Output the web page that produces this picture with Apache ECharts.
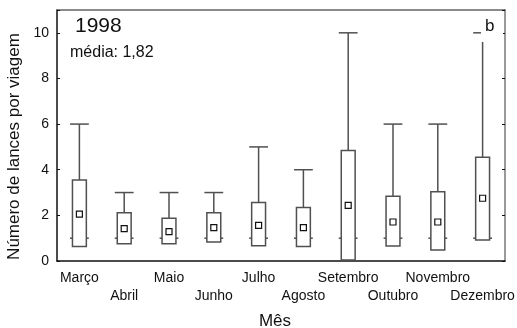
<!DOCTYPE html>
<html>
<head>
<meta charset="utf-8">
<script src="https://cdn.jsdelivr.net/npm/echarts@6/dist/echarts.min.js"></script>
<style>
  html, body { margin: 0; padding: 0; background: #fff; }
  #chart { width: 517px; height: 328px; }
</style>
</head>
<body>
<div id="chart"></div>
<script>
// Monthly number of sets per trip, 1998
const months = ['Março', 'Abril', 'Maio', 'Junho', 'Julho', 'Agosto', 'Setembro', 'Outubro', 'Novembro', 'Dezembro'];
const maxVals  = [6, 3, 3, 3, 5, 4, 10, 6, 6, 10];
const minVals  = [1, 1, 1, 1, 1, 1, 1, 1, 1, 1];
const boxLow   = [0.63, 0.76, 0.76, 0.83, 0.67, 0.63, 0.04, 0.66, 0.48, 0.92];
const boxHigh  = [3.55, 2.12, 1.87, 2.12, 2.56, 2.35, 4.84, 2.84, 3.04, 4.55];
const means    = [2.05, 1.42, 1.29, 1.46, 1.56, 1.46, 2.44, 1.71, 1.71, 2.75];
const yTicks   = [0, 2, 4, 6, 8, 10];

const lineColor = '#505050';
const font = 'Liberation Sans, Arial, sans-serif';

const data = months.map((m, i) => [i, minVals[i], boxLow[i], means[i], boxHigh[i], maxVals[i]]);

function renderBox(params, api) {
  const i = api.value(0);
  const bandW = api.size([1, 0])[0];
  const boxW = bandW * 0.31;
  const capW = bandW * 0.42;
  const pMin = api.coord([i, api.value(1)]);
  const pLow = api.coord([i, api.value(2)]);
  const pMean = api.coord([i, api.value(3)]);
  const pHigh = api.coord([i, api.value(4)]);
  const pMax = api.coord([i, api.value(5)]);
  const x = pMean[0];
  const s = { stroke: lineColor, lineWidth: 1.5, fill: null };
  const sq = 6;
  return {
    type: 'group',
    children: [
      { type: 'line', shape: { x1: x, y1: pMax[1], x2: x, y2: pHigh[1] }, style: s },
      { type: 'line', shape: { x1: x - capW / 2, y1: pMax[1], x2: x + capW / 2, y2: pMax[1] }, style: s },
      { type: 'line', shape: { x1: x - capW / 2, y1: pMin[1], x2: x + capW / 2, y2: pMin[1] }, style: s },
      { type: 'rect', shape: { x: x - boxW / 2, y: pHigh[1], width: boxW, height: pLow[1] - pHigh[1] },
        style: { stroke: lineColor, lineWidth: 1.5, fill: '#fff' } },
      { type: 'rect', shape: { x: x - sq / 2, y: pMean[1] - sq / 2, width: sq, height: sq },
        style: { stroke: '#111', lineWidth: 1.2, fill: '#fff' } }
    ]
  };
}

const chart = echarts.init(document.getElementById('chart'), null, { renderer: 'canvas' });
chart.setOption({
  animation: false,
  backgroundColor: '#fff',
  grid: { left: 57, right: 12, top: 10, bottom: 67, outerBoundsMode: 'none', containLabel: false },
  xAxis: [
    {
      type: 'category',
      data: months,
      name: 'Mês',
      nameLocation: 'middle',
      nameGap: 52,
      nameTextStyle: { fontFamily: font, fontSize: 17, color: '#111', padding: [0, 12, 0, 0] },
      axisLine: { onZero: false, lineStyle: { color: '#111', width: 1.5 } },
      axisTick: { inside: true, length: 3, lineStyle: { color: '#111' } },
      axisLabel: {
        interval: 0,
        margin: 8,
        fontFamily: font,
        fontSize: 14,
        color: '#111',
        lineHeight: 18,
        formatter: (v, idx) => (idx % 2 === 1 ? '\n' + v : v)
      }
    },
    {
      type: 'category',
      position: 'top',
      data: months,
      axisLine: { onZero: false, lineStyle: { color: '#666', width: 1.5 } },
      axisTick: { inside: true, length: 3, lineStyle: { color: '#111' } },
      axisLabel: { show: false }
    }
  ],
  yAxis: [
    {
      type: 'value',
      min: 0,
      max: 11,
      interval: 2,
      name: 'Número de lances por viagem',
      nameLocation: 'middle',
      nameGap: 34,
      nameTextStyle: { fontFamily: font, fontSize: 17, color: '#111', padding: [0, 22, 0, 0] },
      axisLine: { show: true, onZero: false, lineStyle: { color: '#111', width: 1.5 } },
      axisTick: { show: true, inside: true, length: 3, lineStyle: { color: '#111' } },
      splitLine: { show: false },
      axisLabel: {
        fontFamily: font, fontSize: 14, color: '#111', margin: 8,
        formatter: v => (yTicks.indexOf(v) >= 0 ? String(v) : '')
      }
    },
    {
      type: 'value',
      position: 'right',
      min: 0,
      max: 11,
      interval: 2,
      axisLine: { show: true, onZero: false, lineStyle: { color: '#777', width: 1.5 } },
      axisTick: { show: true, inside: true, length: 3, lineStyle: { color: '#111' } },
      splitLine: { show: false },
      axisLabel: { show: false }
    }
  ],
  series: [
    {
      type: 'custom',
      renderItem: renderBox,
      encode: { x: 0, y: [1, 2, 3, 4, 5] },
      data: data,
      z: 2
    }
  ],
  graphic: [
    { type: 'text', left: 75, top: 16, style: { text: '1998', font: '21px ' + font, fill: '#111' } },
    { type: 'text', left: 70, top: 45, style: { text: 'média: 1,82', font: '16px ' + font, fill: '#111' } },
    { type: 'rect', left: 481, top: 14, shape: { width: 22, height: 28 }, style: { fill: '#fff' }, z: 10 },
    { type: 'text', left: 485, top: 18, style: { text: 'b', font: '17px ' + font, fill: '#111' }, z: 11 }
  ]
});
</script>
</body>
</html>
